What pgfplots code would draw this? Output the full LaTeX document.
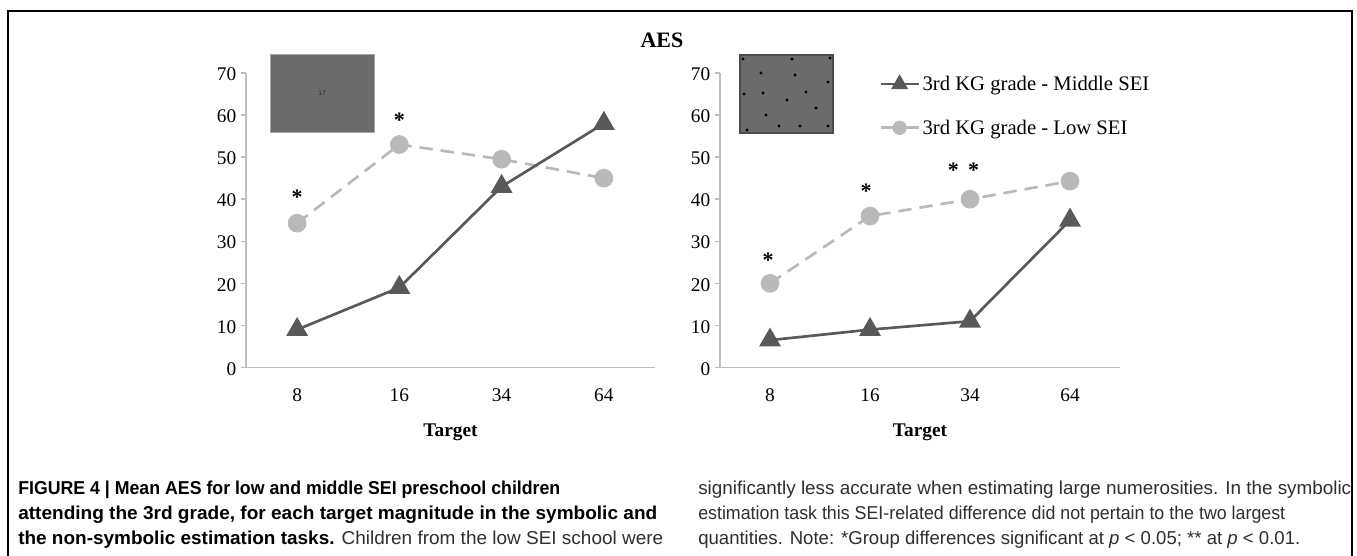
\documentclass[border=0pt]{standalone}
\usepackage{graphicx}
\usepackage{pgfplots}
\pgfplotsset{compat=1.18}
\usepackage{fontspec}
\setmainfont{Liberation Serif}
\newfontfamily\capfont{Liberation Sans}
\definecolor{darkline}{HTML}{595959}
\definecolor{lightline}{HTML}{B9B9B9}
\definecolor{axisgray}{HTML}{BEBEBE}
\definecolor{boxgray}{HTML}{6B6B6B}
\definecolor{captext}{HTML}{2E2E2E}

\newsavebox\capbox
\newcommand\fitline[2]{\sbox\capbox{#2}%
  \pgfmathsetmacro\capscale{(#1)/(\the\wd\capbox)}%
  \scalebox{\capscale}[1]{\usebox\capbox}}

\tikzset{sigstar/.style={font=\bfseries\fontsize{16.5}{16.5}\selectfont, inner sep=0pt, yshift=-2.2pt}}

\pgfplotsset{
  aesaxis/.style={
    scale only axis, height=220.875pt,
    xmin=-0.5, xmax=3.5, ymin=0, ymax=70,
    ytick={0,10,...,70}, xtick={0,1,2,3}, xticklabels={8,16,34,64},
    axis x line=bottom, axis y line=left,
    axis line style={-, draw=axisgray, line width=1.1pt},
    tick align=outside, major tick length=3.75pt,
    ytick style={draw=axisgray, line width=1.1pt},
    xtick style={draw=none},
    tick label style={font=\fontsize{14.5}{16}\selectfont, text=black},
    /pgf/number format/assume math mode=true,
    xticklabel style={yshift=-8.25pt},
    yticklabel style={yshift=-1pt},
    xlabel={\textbf{Target}},
    xlabel style={font=\fontsize{14.5}{16}\selectfont, yshift=-10pt},
    clip=false, anchor=south west,
  },
  midline/.style={darkline, line width=2pt, mark=triangle*, mark size=7.5pt,
    mark options={solid, fill=darkline, draw=darkline}},
  lowline/.style={lightline, line width=2pt, dash pattern=on 10pt off 6pt,
    mark=*, mark size=6pt, mark options={solid, fill=lightline, draw=lightline}},
}

\begin{document}
\begin{tikzpicture}
\path[use as bounding box] (0,0) rectangle (1017.75pt,-417pt);

% ---------- left panel: symbolic ----------
\begin{axis}[aesaxis, width=306.75pt, at={(184.5pt,-275.625pt)}]
\addplot[lowline] coordinates {(0,34.3) (1,53) (2,49.5) (3,45)};
\addplot[midline] coordinates {(0,9) (1,19) (2,43) (3,58)};
\node[sigstar] at (axis cs:0,41.1) {*};
\node[sigstar] at (axis cs:1,59.4) {*};
\end{axis}

% ---------- right panel: non-symbolic ----------
\begin{axis}[aesaxis, width=300pt, at={(540pt,-275.625pt)},
  legend style={at={(0.3975,0.888)}, anchor=west, draw=none, fill=none,
    inner sep=0pt, row sep=20.5pt, column sep=2pt,
    font=\fontsize{15.5}{16}\selectfont, nodes={inner sep=0pt}},
  legend cell align=left,
  legend image code/.code={\draw[mark repeat=2, mark phase=2, #1, solid,
    every mark/.append style={scale=0.72}]
    plot coordinates {(0pt,0pt) (14.25pt,0pt) (28.5pt,0pt)};},
]
\addplot[midline] coordinates {(0,6.5) (1,9) (2,11) (3,35)};
\addlegendentry{3rd KG grade - Middle SEI}
\addplot[lowline] coordinates {(0,20) (1,36) (2,40) (3,44.3)};
\addlegendentry{3rd KG grade - Low SEI}
\node[sigstar] at (axis cs:-0.02,26.3) {*};
\node[sigstar] at (axis cs:0.96,42.5) {*};
\node[sigstar] at (axis cs:1.935,47.7) {*\hspace{7pt}*};
\end{axis}

\begin{scope}[x=0.75pt, y=-0.75pt]
% frame
\draw[black, line width=2pt] (8,560) -- (8,11) -- (1352,11) -- (1352,560);
% title
\node[font=\bfseries\fontsize{16.5}{16.5}\selectfont] at (662,40) {AES};
% stimulus pictures
\fill[boxgray] (270,54) rectangle (374,132);
\draw[gray!70, line width=0.4pt] (270,54) rectangle (374,132);
\node[font=\capfont\fontsize{5}{5}\selectfont, text=black!85] at (322,93) {17};
\fill[boxgray] (740,55) rectangle (833,133);
\draw[black!70, line width=0.8pt] (740,55) rectangle (833,133);
\foreach \p in {(743,59),(792,59),(830,58),(761,73),(795,75),(828,82),(744,94),(763,93),
  (806,92),(787,100),(816,108),(766,115),(747,130),(779,126),(800,126),(828,126)}
  \fill[black] \p circle[radius=1.3pt];
% caption
\begin{scope}[every node/.style={anchor=base west, inner sep=0pt, text=captext,
    font=\capfont\fontsize{14}{18}\selectfont}]
\node at (18,494) {\fitline{406.5pt}{\textbf{\color{black}FIGURE 4 | Mean AES for low and middle SEI preschool children}}};
\node at (18,519) {\fitline{479.25pt}{\textbf{\color{black}attending the 3rd grade, for each target magnitude in the symbolic and}}};
\node at (18,544) {\fitline{483.75pt}{\textbf{\color{black}the non-symbolic estimation tasks.} Children from the low SEI school were}};
\node at (698,494) {\fitline{489.75pt}{significantly less accurate when estimating large numerosities. In the symbolic}};
\node at (698,519) {\fitline{440.25pt}{estimation task this SEI-related difference did not pertain to the two largest}};
\node at (698,544) {\fitline{451.5pt}{quantities. Note: *Group differences significant at \textit{p} < 0.05; ** at \textit{p} < 0.01.}};
\end{scope}
\end{scope}
\end{tikzpicture}
\end{document}
